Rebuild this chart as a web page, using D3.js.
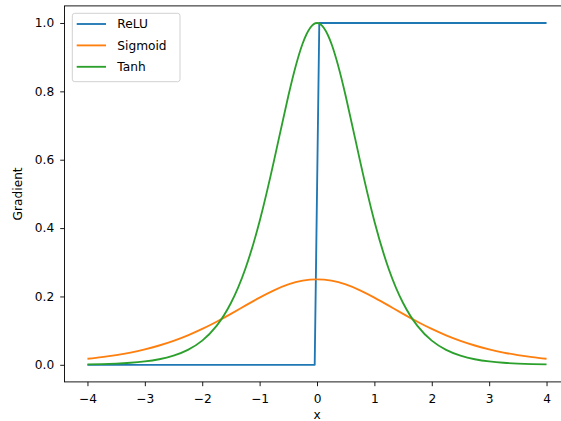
<!DOCTYPE html>
<html>
<head>
<meta charset="utf-8">
<script src="https://cdn.jsdelivr.net/npm/d3@7"></script>
<style>
  html, body { margin: 0; padding: 0; background: #fff; overflow: hidden; }
  svg { display: block; font-family: "DejaVu Sans", sans-serif; }
</style>
</head>
<body>
<div id="chart"></div>
<script>
// sample points
var xs = [-4, -3.75, -3.5, -3.25, -3, -2.75, -2.5, -2.25, -2, -1.75, -1.5, -1.25, -1, -0.75, -0.5, -0.25,
          0, 0.25, 0.5, 0.75, 1, 1.25, 1.5, 1.75, 2, 2.25, 2.5, 2.75, 3, 3.25, 3.5, 3.75, 4];

var sigmoidGrad = [0.0177, 0.0225, 0.0285, 0.0359, 0.0452, 0.0565, 0.0701, 0.0862, 0.1050, 0.1261, 0.1491, 0.1731, 0.1966, 0.2179, 0.2350, 0.2461,
                   0.2500, 0.2461, 0.2350, 0.2179, 0.1966, 0.1731, 0.1491, 0.1261, 0.1050, 0.0862, 0.0701, 0.0565, 0.0452, 0.0359, 0.0285, 0.0225, 0.0177];

var tanhGrad = [0.0013, 0.0022, 0.0036, 0.0060, 0.0099, 0.0162, 0.0266, 0.0436, 0.0707, 0.1138, 0.1807, 0.2804, 0.4200, 0.5966, 0.7864, 0.9400,
                1.0000, 0.9400, 0.7864, 0.5966, 0.4200, 0.2804, 0.1807, 0.1138, 0.0707, 0.0436, 0.0266, 0.0162, 0.0099, 0.0060, 0.0036, 0.0022, 0.0013];

// relu gradient: flat, jumps between the two samples either side of 0
var reluX = [-4, -0.04, 0.04, 4];
var reluGrad = [0, 0, 1, 1];

var xTicks = [-4, -3, -2, -1, 0, 1, 2, 3, 4];
var yTicks = [0, 0.2, 0.4, 0.6, 0.8, 1.0];

var seriesNames = ['ReLU', 'Sigmoid', 'Tanh'];
var seriesColors = ['#1f77b4', '#ff7f0e', '#2ca02c'];

var width = 561;
var height = 421;

// axes box (right spine falls just outside the picture)
var plot = {left: 64.5, right: 569.5, top: 5.9, bottom: 381.9};

var svg = d3.select('#chart')
  .append('svg')
    .attr('width', width)
    .attr('height', height);

var x = d3.scaleLinear().domain([-4.4, 4.4]).range([plot.left, plot.right]);
var y = d3.scaleLinear().domain([-0.05, 1.05]).range([plot.bottom, plot.top]);

var minus = function(s){ return s.replace('-', '\u2212'); };

////////////////////
// Axes           //
////////////////////

var xAxis = d3.axisBottom(x)
  .tickValues(xTicks)
  .tickSize(4.3)
  .tickPadding(7.7)
  .tickFormat(function(d){ return minus(d3.format('d')(d)); });

var yAxis = d3.axisLeft(y)
  .tickValues(yTicks)
  .tickSize(4.3)
  .tickPadding(6)
  .tickFormat(d3.format('.1f'));

var gx = svg.append('g')
    .attr('transform', 'translate(0,' + plot.bottom + ')')
    .call(xAxis);

var gy = svg.append('g')
    .attr('transform', 'translate(' + plot.left + ',0)')
    .call(yAxis);

[gx, gy].forEach(function(g){
  g.select('.domain').remove();
  g.selectAll('.tick line').attr('stroke', '#000').attr('stroke-width', 0.9);
  g.selectAll('.tick text')
    .attr('fill', '#000')
    .style('font-size', '12.2px')
    .style('font-family', '"DejaVu Sans", sans-serif');
});

////////////////////
// Lines          //
////////////////////

var clip = svg.append('clipPath').attr('id', 'plotclip')
  .append('rect')
    .attr('x', plot.left)
    .attr('y', plot.top)
    .attr('width', plot.right - plot.left)
    .attr('height', plot.bottom - plot.top);

var lines = svg.append('g').attr('clip-path', 'url(#plotclip)');

var straight = d3.line()
  .x(function(d){ return x(d[0]); })
  .y(function(d){ return y(d[1]); });

var smooth = d3.line()
  .x(function(d){ return x(d[0]); })
  .y(function(d){ return y(d[1]); })
  .curve(d3.curveNatural);

var series = [
  {points: d3.zip(reluX, reluGrad), gen: straight},
  {points: d3.zip(xs, sigmoidGrad), gen: smooth},
  {points: d3.zip(xs, tanhGrad), gen: smooth}
];

series.forEach(function(s, i){
  lines.append('path')
    .attr('d', s.gen(s.points))
    .attr('fill', 'none')
    .attr('stroke', seriesColors[i])
    .attr('stroke-width', 1.85)
    .attr('stroke-linejoin', 'round');
});

////////////////////
// Spines         //
////////////////////

svg.append('rect')
  .attr('x', plot.left)
  .attr('y', plot.top)
  .attr('width', plot.right - plot.left)
  .attr('height', plot.bottom - plot.top)
  .attr('fill', 'none')
  .attr('stroke', '#000')
  .attr('stroke-width', 0.9);

////////////////////
// Labels         //
////////////////////

// x label sits right at the bottom edge; keep it just inside
svg.append('text')
  .attr('x', (plot.left + plot.right) / 2)
  .attr('y', 419)
  .attr('text-anchor', 'middle')
  .style('font-size', '12.2px')
  .text('x');

svg.append('text')
  .attr('transform', 'translate(22,' + (plot.top + plot.bottom) / 2 + ') rotate(-90)')
  .attr('text-anchor', 'middle')
  .style('font-size', '12.2px')
  .text('Gradient');

////////////////////
// Legend         //
////////////////////

var legend = svg.append('g');

legend.append('rect')
  .attr('x', 72.3)
  .attr('y', 13.3)
  .attr('width', 107.7)
  .attr('height', 68.4)
  .attr('rx', 2.5)
  .attr('fill', 'rgba(255,255,255,0.8)')
  .attr('stroke', '#cccccc')
  .attr('stroke-width', 0.9);

var item = legend.selectAll('g.item')
  .data(seriesNames)
  .enter().append('g')
    .attr('class', 'item')
    .attr('transform', function(d, i){ return 'translate(0,' + (24 + i * 21.4) + ')'; });

item.append('line')
  .attr('x1', 76.7)
  .attr('x2', 106)
  .attr('stroke', function(d, i){ return seriesColors[i]; })
  .attr('stroke-width', 1.85);

item.append('text')
  .attr('x', 117.3)
  .attr('y', 4.4)
  .style('font-size', '12.2px')
  .text(function(d){ return d; });
</script>
</body>
</html>
